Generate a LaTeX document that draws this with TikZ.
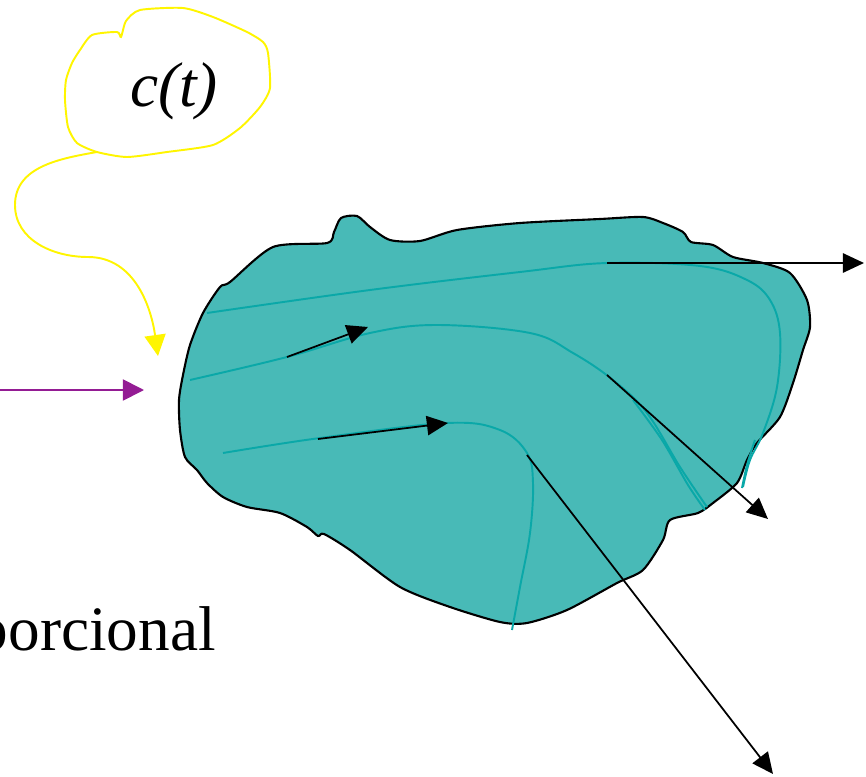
\documentclass[tikz,border=0pt]{standalone}
\usepackage{fontspec}
\setmainfont{Liberation Serif}
\usetikzlibrary{arrows.meta}

\definecolor{blobfill}{RGB}{72,186,183}
\definecolor{streamcol}{RGB}{10,168,168}
\definecolor{inflow}{RGB}{148,28,148}
\definecolor{callout}{RGB}{255,245,0}

\begin{document}
\begin{tikzpicture}[x=0.02cm,y=-0.02cm]
\tikzset{
  blobline/.style={draw=black,line width=1.2pt,fill=blobfill,line join=round},
  streamline/.style={draw=streamcol,line width=1.1pt},
  flowarrow/.style={-{Triangle[length=12pt,width=11pt]},line width=1pt},
  inarrow/.style={-{Triangle[length=12pt,width=12pt]},line width=1pt,draw=inflow},
  calloutline/.style={draw=callout,line width=1.1pt},
  bigtext/.style={font=\fontsize{36}{40}\selectfont,inner sep=0pt}
}
\useasboundingbox (0,0) rectangle (866,777);

% control volume
\draw[blobline] plot[smooth cycle,tension=0.45] coordinates {
  (230,282) (273,247) (327,243) (334,232) (341,218) (357,216) (370,227)
  (390,240) (420,241) (457,230) (520,223) (600,219) (643,217) (663,223)
  (683,232) (691,242) (713,245) (733,257) (763,263) (790,273) (807,300)
  (810,327) (803,350) (793,383) (780,417) (757,443) (747,460) (737,483)
  (713,503) (698,513) (670,520) (663,540) (643,570) (617,583) (567,610)
  (527,623) (500,622) (450,607) (400,587) (350,550) (324,534) (318,536)
  (307,527) (280,513) (247,507) (223,497) (207,483) (197,470) (185,457)
  (180,430) (179,400) (183,375) (190,345) (203,313) (220,287)};

% stream lines
\draw[streamline] plot[smooth,tension=0.6] coordinates {
  (207,313) (370,290) (520,272) (607,263) (700,266) (747,280) (770,300)
  (780,333) (777,387) (763,433) (750,460) (743,487)};
\draw[streamline] plot[smooth] coordinates {(755,440) (747,465) (742,488)};
\draw[streamline] plot[smooth,tension=0.6] coordinates {
  (190,380) (287,357) (370,333) (437,325) (530,333) (573,353) (613,380)
  (647,413) (680,467) (707,507)};
\draw[streamline] plot[smooth] coordinates {(633,400) (662,440) (688,485) (705,510)};
\draw[streamline] plot[smooth,tension=0.6] coordinates {
  (223,453) (320,438) (447,423) (500,430) (527,453) (533,483) (530,533)
  (520,587) (512,630)};

% velocity arrows
\coordinate (vA0) at (287,357);
\coordinate (vA1) at (368,327);
\coordinate (vB0) at (318,439);
\coordinate (vB1) at (448,423);
\coordinate (out0) at (607,263);
\coordinate (out1) at (864,263);
\coordinate (out2) at (607,375);
\coordinate (out3) at (768,519);
\coordinate (out4) at (527,455);
\coordinate (out5) at (773,774);
\draw[flowarrow] (vA0) -- (vA1);
\draw[flowarrow] (vB0) -- (vB1);
\draw[flowarrow] (out0) -- (out1);
\draw[flowarrow] (out2) -- (out3);
\draw[flowarrow] (out4) -- (out5);

% inflow
\coordinate (in0) at (-5,390);
\coordinate (in1) at (144,390);
\draw[inarrow] (in0) -- (in1);

% callout
\draw[calloutline] plot[smooth cycle,tension=0.4] coordinates {
  (92,35) (117,32) (121,37) (126,21) (140,10) (183,8) (213,17) (247,32)
  (263,42) (268,53) (270,88) (260,107) (240,128) (213,145) (167,152)
  (127,157) (97,152) (77,143) (68,127) (65,100) (66,80) (72,63) (80,50)};
\node[bigtext,anchor=base] (ct) at (174,107) {\itshape c(t)};
\coordinate (tail0) at (97,152);
\coordinate (tail1) at (15,205);
\coordinate (tail2) at (88,257);
\coordinate (tail3) at (158,356);
\draw[calloutline,-{Triangle[length=12pt,width=12pt]}]
  (tail0) to[out=190,in=90] (tail1) to[out=-90,in=180] (tail2)
  to[out=0,in=98] (tail3);

\node[bigtext,anchor=base east] (prop) at (216,650) {porcional};
\end{tikzpicture}
\end{document}
